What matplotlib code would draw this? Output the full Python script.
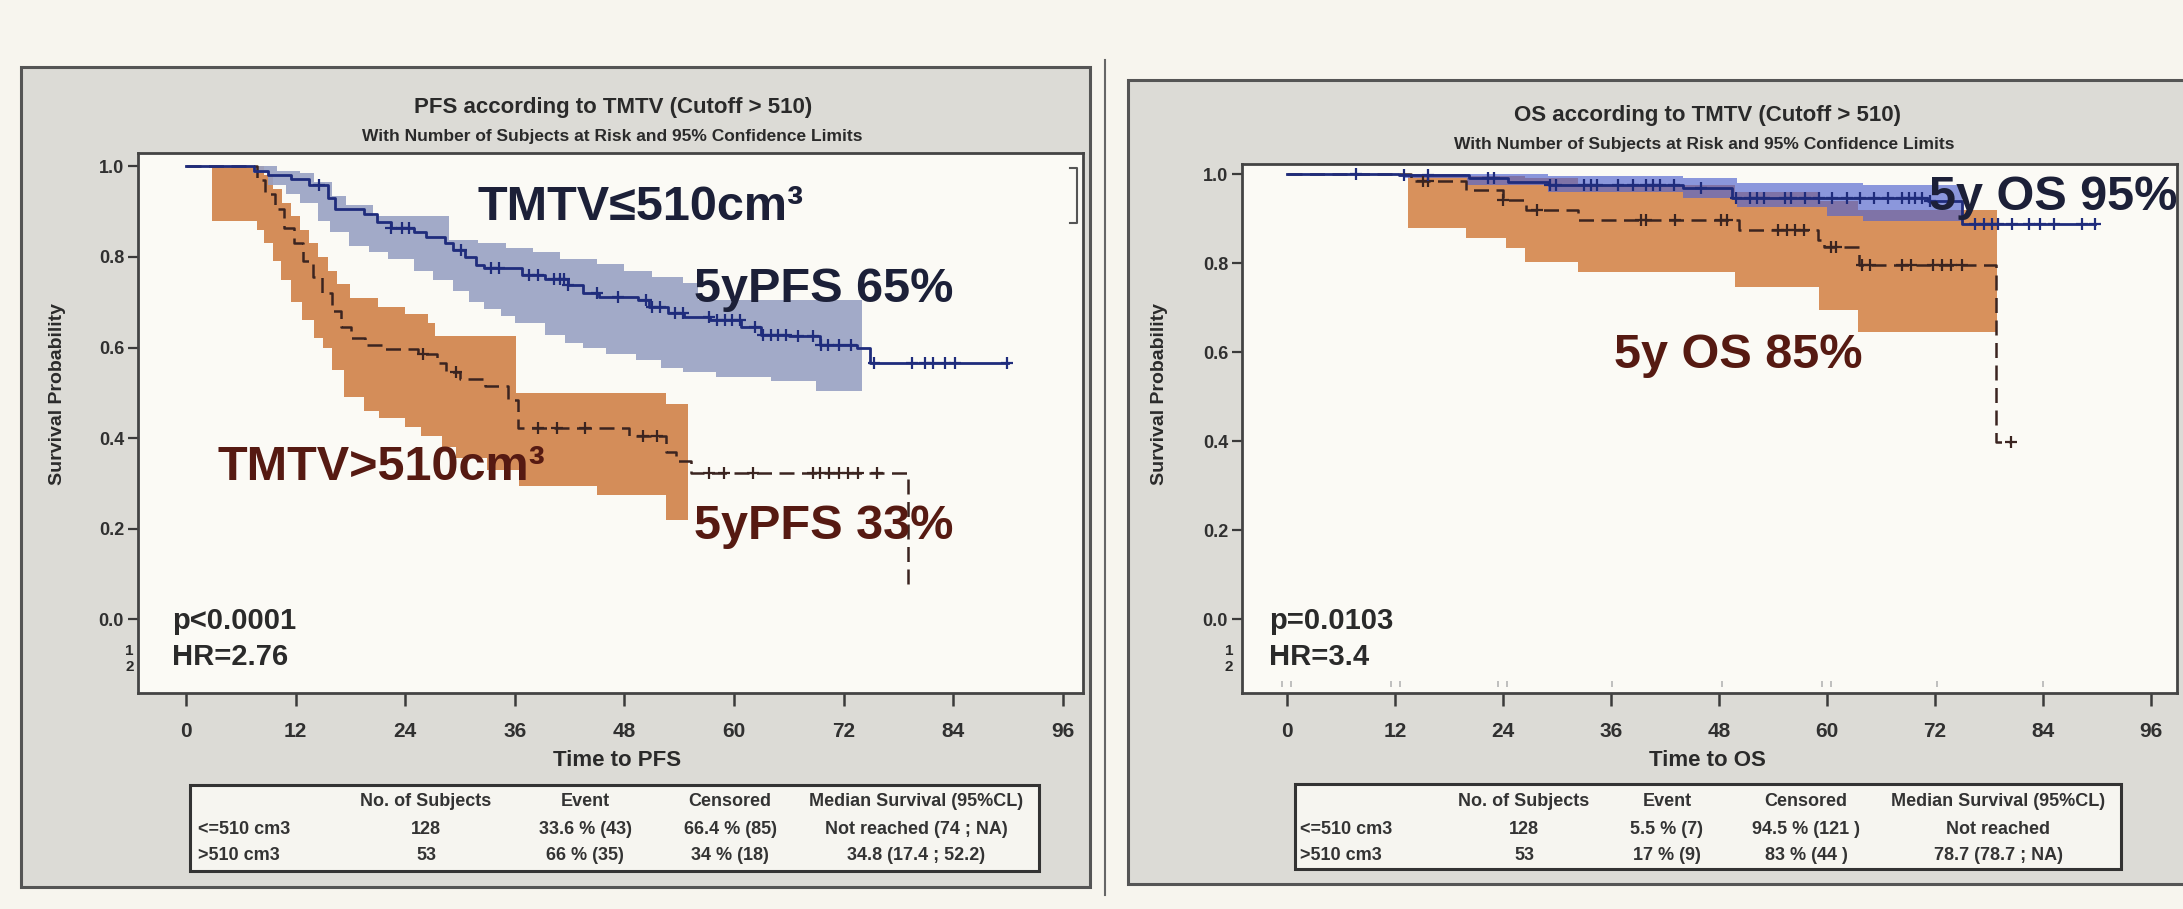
import numpy as np
import matplotlib.pyplot as plt
from matplotlib.patches import Rectangle
from matplotlib.lines import Line2D

plt.rcParams['font.family'] = ['Liberation Sans', 'DejaVu Sans']

W, H = 2183, 909

# ---- PFS, TMTV <= 510 cm3 ----
pfs_low_t = [0, 7.5, 9.0, 11.5, 13.5, 15.5, 16.3, 19.5, 20.9, 22.5, 25, 26.3, 28.4, 29.2, 30.5,
             31.8, 32.6, 36.8, 39.3, 41.8, 43.5, 45.2, 49.5, 50.7, 52.8, 54.5, 57.4, 60.8,
             62.9, 66, 69.4, 73.5, 74.9]
pfs_low_s = [1.0, 0.99, 0.98, 0.972, 0.96, 0.93, 0.905, 0.895, 0.878, 0.864, 0.855, 0.845, 0.83,
             0.815, 0.80, 0.782, 0.775, 0.76, 0.752, 0.738, 0.72, 0.712, 0.705, 0.69, 0.676,
             0.668, 0.66, 0.646, 0.628, 0.625, 0.605, 0.598, 0.565]
pfs_low_end = 90
pfs_low_cens = [14.6, 22.5, 23.6, 24.4, 30.1, 33.4, 34.3, 37.6, 38.5, 40.3, 41.0, 41.4, 41.8,
                45.0, 47.3, 50.4, 51.0, 51.9, 53.5, 54.4, 57.3, 58.1, 59.0, 59.8, 60.7, 62.3,
                63.2, 64.0, 64.8, 65.7, 67.0, 68.6, 69.5, 70.3, 71.5, 72.8, 75.3, 79.5, 80.9,
                81.8, 83.1, 84.2, 89.9]
pfs_low_up_t = [2.7, 10, 12.5, 14, 16, 17.5, 20.5, 28.8, 32, 35, 38, 41, 45, 48, 51, 54.4, 56]
pfs_low_up = [1.0, 0.99, 0.985, 0.965, 0.935, 0.915, 0.89, 0.838, 0.83, 0.82, 0.81, 0.795,
              0.785, 0.77, 0.755, 0.742, 0.705]
pfs_low_lo_t = [2.7, 7.3, 9, 11, 12.5, 14.5, 15.8, 17.9, 20, 22.1, 25, 27, 29.2, 31, 32.6, 34.5,
                36, 39.3, 41.5, 43.5, 46, 49.3, 52, 54.4, 58, 64, 69]
pfs_low_lo = [1.0, 0.985, 0.96, 0.94, 0.92, 0.88, 0.855, 0.825, 0.81, 0.795, 0.77, 0.75, 0.725,
              0.70, 0.685, 0.67, 0.655, 0.628, 0.61, 0.598, 0.585, 0.572, 0.555, 0.545, 0.535,
              0.525, 0.505]
pfs_low_ci_end = 74

# ---- PFS, TMTV > 510 cm3 ----
pfs_high_t = [0, 7.8, 8.6, 9.7, 10.7, 11.8, 12.8, 13.9, 14.9, 16, 17, 18.1, 19.6, 21.7, 25.4,
              27.5, 28.5, 30, 32.7, 35.3, 36.4, 48.5, 52.6, 53.7, 55.3, 79]
pfs_high_s = [1.0, 0.97, 0.94, 0.905, 0.865, 0.83, 0.79, 0.755, 0.72, 0.68, 0.645, 0.62, 0.605,
              0.597, 0.585, 0.565, 0.545, 0.53, 0.515, 0.485, 0.422, 0.405, 0.37, 0.35, 0.322,
              0.07]
pfs_high_end = 79
pfs_high_cens = [25.9, 29.6, 38.5, 40.6, 43.7, 50.0, 51.6, 57.3, 58.9, 62.1, 68.6, 69.4, 70.4,
                 71.5, 72.5, 73.6, 75.6]
pfs_high_up_t = [2.8, 8.5, 9.5, 10.5, 11.5, 12.5, 13.5, 14.5, 15.5, 16.5, 18, 21, 24, 26.5,
                 27.3, 36.1, 52.6]
pfs_high_up = [1.0, 0.98, 0.95, 0.92, 0.89, 0.86, 0.83, 0.80, 0.77, 0.74, 0.71, 0.69, 0.675,
               0.655, 0.625, 0.5, 0.475]
pfs_high_lo_t = [2.8, 7.8, 8.5, 9.5, 10.4, 11.5, 12.7, 14, 15, 16, 17.3, 19.5, 21.1, 24, 25.7,
                 28, 29.6, 33, 36.5, 45, 52.6]
pfs_high_lo = [0.88, 0.86, 0.83, 0.79, 0.75, 0.70, 0.66, 0.62, 0.60, 0.55, 0.49, 0.46, 0.445,
               0.425, 0.405, 0.38, 0.356, 0.33, 0.295, 0.275, 0.22]
pfs_high_ci_end = 55

# ---- OS, TMTV <= 510 cm3 ----
os_low_t = [0, 12.5, 20.2, 24.6, 29.1, 44, 49.5, 71.2, 75]
os_low_s = [1.0, 0.997, 0.99, 0.983, 0.975, 0.968, 0.945, 0.94, 0.888]
os_low_end = 89.8
os_low_cens = [7.7, 13.0, 15.7, 22.3, 23.0, 29.2, 29.9, 33.0, 33.8, 34.5, 36.8, 38.4, 39.9, 40.7,
               41.4, 43.0, 46.0, 49.9, 51.4, 52.2, 53.0, 55.3, 56.0, 57.6, 59.1, 60.6, 62.2,
               63.7, 65.2, 66.8, 68.3, 69.1, 69.8, 70.6, 71.4, 76.4, 77.5, 78.3, 79.0, 80.6,
               82.5, 83.7, 85.2, 88.3, 89.8]
os_low_up_t = [13, 29, 44, 50, 64]
os_low_up = [1.0, 0.995, 0.99, 0.98, 0.975]
os_low_lo_t = [13, 20, 29, 44, 50, 60, 64]
os_low_lo = [0.99, 0.975, 0.96, 0.945, 0.925, 0.905, 0.895]
os_low_ci_end = 75

# ---- OS, TMTV > 510 cm3 ----
os_high_t = [0, 13.8, 19.9, 24, 26.6, 32.3, 50.2, 59, 59.7, 63.6, 78.8]
os_high_s = [1.0, 0.985, 0.965, 0.942, 0.92, 0.897, 0.874, 0.852, 0.837, 0.796, 0.398]
os_high_end = 80.4
os_high_cens = [15.1, 15.7, 24.0, 27.8, 39.3, 39.9, 43.1, 48.2, 48.9, 54.6, 55.6, 56.5, 57.5,
                60.4, 61.0, 63.9, 64.8, 68.3, 69.3, 71.8, 72.8, 73.8, 75.0, 80.4]
os_high_up_t = [13.5, 19.9, 26.5, 32.3, 49.8, 59.1, 63.5]
os_high_up = [1.0, 0.995, 0.99, 0.975, 0.96, 0.94, 0.92]
os_high_lo_t = [13.5, 19.9, 24.3, 26.5, 32.3, 49.8, 59.1, 63.5]
os_high_lo = [0.879, 0.856, 0.834, 0.803, 0.78, 0.747, 0.694, 0.646]
os_high_ci_end = 78.9

# faint at-risk marks under the OS curves
os_risk_marks = [-0.6, 0.5, 11.6, 12.6, 23.4, 24.4, 36.1, 48.3, 59.4, 60.4, 72.2, 84]

# summary tables
table_header = ["No. of Subjects", "Event", "Censored", "Median Survival (95%CL)"]
pfs_rows = [["<=510 cm3", "128", "33.6 % (43)", "66.4 % (85)", "Not reached (74 ; NA)"],
            [">510 cm3", "53", "66 % (35)", "34 % (18)", "34.8 (17.4 ; 52.2)"]]
os_rows = [["<=510 cm3", "128", "5.5 % (7)", "94.5 % (121 )", "Not reached"],
           [">510 cm3", "53", "17 % (9)", "83 % (44 )", "78.7 (78.7 ; NA)"]]

BLUE_LINE = '#1f2c7c'
BROWN_LINE = '#3b2420'
NAVY_TXT = '#1c2038'
RED_TXT = '#561a12'
DARK = '#2a2a2a'


def fx(x):
    return x / W


def fy(y):
    return 1 - y / H


def step_path(t, v, t_end):
    xs, ys = [t[0]], [v[0]]
    for i in range(1, len(t)):
        xs += [t[i], t[i]]
        ys += [v[i - 1], v[i]]
    xs.append(t_end)
    ys.append(v[-1])
    return xs, ys


def surv_at(t, v, times):
    idx = np.searchsorted(t, times, side='right') - 1
    return np.asarray(v)[idx]


def draw_band(ax, up_t, up, lo_t, lo, t_end, color, alpha):
    xu, yu = step_path(up_t, up, t_end)
    xl, yl = step_path(lo_t, lo, t_end)
    ax.fill(xu + xl[::-1], yu + yl[::-1], color=color, alpha=alpha, lw=0, zorder=1)


def draw_curve(ax, t, s, t_end, cens, color, ls, lw):
    xs, ys = step_path(t, s, t_end)
    ax.plot(xs, ys, color=color, ls=ls, lw=lw, zorder=3)
    ax.plot(cens, surv_at(t, s, cens), ls='none', marker='+', ms=9, mew=1.6,
            color=color, zorder=4)


def setup_axes(px, xlim, ylim):
    x0, y0, x1, y1 = px
    ax = fig.add_axes([fx(x0), fy(y1), (x1 - x0) / W, (y1 - y0) / H])
    ax.set_facecolor('#fbfaf5')
    ax.set_xlim(*xlim)
    ax.set_ylim(*ylim)
    ax.set_xticks(range(0, 97, 12))
    ax.set_yticks([0.0, 0.2, 0.4, 0.6, 0.8, 1.0])
    ax.set_yticklabels(['0.0', '0.2', '0.4', '0.6', '0.8', '1.0'])
    ax.tick_params(axis='y', length=7, width=1.6, colors='#3a3a3a', labelsize=13, pad=3)
    ax.tick_params(axis='x', length=9, width=1.8, colors='#3a3a3a', labelsize=15, pad=12)
    for lab in ax.get_xticklabels() + ax.get_yticklabels():
        lab.set_fontweight('bold')
        lab.set_color('#303030')
    for sp in ax.spines.values():
        sp.set_color('#444444')
        sp.set_linewidth(2)
    return ax


def draw_table(x0, y0, x1, y1, label_x, col_x, rows_y, rows):
    fig.patches.append(Rectangle((fx(x0), fy(y1)), (x1 - x0) / W, (y1 - y0) / H,
                                 transform=fig.transFigure, facecolor='#f6f5f0',
                                 edgecolor='#333333', lw=2.2, zorder=-5))
    kw = dict(va='center', fontsize=13, fontweight='bold', color='#333333')
    for cx, txt in zip(col_x, table_header):
        fig.text(fx(cx), fy(rows_y[0]), txt, ha='center', **kw)
    for ry, row in zip(rows_y[1:], rows):
        fig.text(fx(label_x), fy(ry), row[0], ha='left', **kw)
        for cx, txt in zip(col_x, row[1:]):
            fig.text(fx(cx), fy(ry), txt, ha='center', **kw)


fig = plt.figure(figsize=(W / 100, H / 100), dpi=100)
fig.patch.set_facecolor('#f7f5ee')

# grey slide panels, kept behind the axes
fig.patches.append(Rectangle((fx(21), fy(887)), (1090 - 21) / W, (887 - 67) / H,
                             transform=fig.transFigure, facecolor='#dcdbd6',
                             edgecolor='#555555', lw=2.2, zorder=-10))
fig.patches.append(Rectangle((fx(1128), fy(884)), (2210 - 1128) / W, (884 - 80) / H,
                             transform=fig.transFigure, facecolor='#dcdbd6',
                             edgecolor='#555555', lw=2.2, zorder=-10))
fig.lines.append(Line2D([fx(1105), fx(1105)], [fy(60), fy(895)], transform=fig.transFigure,
                        color='#666666', lw=1.5, zorder=-10))

# ---------------- PFS panel ----------------
ax1 = setup_axes((138, 153, 1083, 693), (-5.25, 98.2), (-0.163, 1.0296))
draw_band(ax1, pfs_high_up_t, pfs_high_up, pfs_high_lo_t, pfs_high_lo, pfs_high_ci_end,
          '#d48d59', 1.0)
draw_band(ax1, pfs_low_up_t, pfs_low_up, pfs_low_lo_t, pfs_low_lo, pfs_low_ci_end,
          '#98a2c4', 0.9)
draw_curve(ax1, pfs_high_t, pfs_high_s, pfs_high_end, pfs_high_cens, BROWN_LINE,
           (0, (6, 3)), 1.8)
draw_curve(ax1, pfs_low_t, pfs_low_s, pfs_low_end, pfs_low_cens, BLUE_LINE, '-', 2.0)

fig.lines.append(Line2D([fx(1070), fx(1077), fx(1077), fx(1070)],
                        [fy(168), fy(168), fy(223), fy(223)], transform=fig.transFigure,
                        color='#555555', lw=1.5))

fig.text(fx(613), fy(108), "PFS according to TMTV (Cutoff > 510)", ha='center', va='center',
         fontsize=16, fontweight='bold', color=DARK)
fig.text(fx(612), fy(137), "With Number of Subjects at Risk and 95% Confidence Limits",
         ha='center', va='center', fontsize=12.5, fontweight='bold', color=DARK)
fig.text(fx(58), fy(394), "Survival Probability", rotation=90, ha='center', va='center',
         fontsize=14, fontweight='bold', color=DARK)
fig.text(fx(617), fy(760), "Time to PFS", ha='center', va='center', fontsize=16,
         fontweight='bold', color=DARK)
fig.text(fx(134), fy(651), "1", ha='right', va='center', fontsize=11, fontweight='bold', color=DARK)
fig.text(fx(134), fy(667), "2", ha='right', va='center', fontsize=11, fontweight='bold', color=DARK)

fig.text(fx(477), fy(220), "TMTV≤510cm³", fontsize=35, fontweight='bold', color=NAVY_TXT)
fig.text(fx(694), fy(302), "5yPFS 65%", fontsize=35, fontweight='bold', color=NAVY_TXT)
fig.text(fx(217), fy(480), "TMTV>510cm³", fontsize=35, fontweight='bold', color=RED_TXT)
fig.text(fx(694), fy(539), "5yPFS 33%", fontsize=35, fontweight='bold', color=RED_TXT)
fig.text(fx(172), fy(629), "p<0.0001", fontsize=21, fontweight='bold', color=DARK)
fig.text(fx(172), fy(665), "HR=2.76", fontsize=21, fontweight='bold', color=DARK)

draw_table(190, 785, 1039, 871, 198, [426, 585, 730, 916], [802, 829, 855], pfs_rows)

# ---------------- OS panel ----------------
ax2 = setup_axes((1242, 164, 2177, 693), (-4.99, 98.9), (-0.166, 1.0225))
draw_band(ax2, os_high_up_t, os_high_up, os_high_lo_t, os_high_lo, os_high_ci_end,
          '#d8915c', 1.0)
draw_band(ax2, os_low_up_t, os_low_up, os_low_lo_t, os_low_lo, os_low_ci_end,
          '#4f63d0', 0.65)
draw_curve(ax2, os_high_t, os_high_s, os_high_end, os_high_cens, BROWN_LINE,
           (0, (6, 3)), 1.8)
draw_curve(ax2, os_low_t, os_low_s, os_low_end, os_low_cens, BLUE_LINE, '-', 2.0)
ax2.plot(os_risk_marks, [-0.146] * len(os_risk_marks), ls='none', marker='|', ms=5,
         mew=1.2, color='#b5b5b5', zorder=2)

fig.text(fx(1708), fy(116), "OS according to TMTV (Cutoff > 510)", ha='center', va='center',
         fontsize=16, fontweight='bold', color=DARK)
fig.text(fx(1704), fy(145), "With Number of Subjects at Risk and 95% Confidence Limits",
         ha='center', va='center', fontsize=12.5, fontweight='bold', color=DARK)
fig.text(fx(1160), fy(394), "Survival Probability", rotation=90, ha='center', va='center',
         fontsize=14, fontweight='bold', color=DARK)
fig.text(fx(1707), fy(761), "Time to OS", ha='center', va='center', fontsize=16,
         fontweight='bold', color=DARK)
fig.text(fx(1233), fy(651), "1", ha='right', va='center', fontsize=11, fontweight='bold', color=DARK)
fig.text(fx(1233), fy(667), "2", ha='right', va='center', fontsize=11, fontweight='bold', color=DARK)

fig.text(fx(1929), fy(210), "5y OS 95%", fontsize=35, fontweight='bold', color=NAVY_TXT)
fig.text(fx(1614), fy(368), "5y OS 85%", fontsize=35, fontweight='bold', color=RED_TXT)
fig.text(fx(1269), fy(629), "p=0.0103", fontsize=21, fontweight='bold', color=DARK)
fig.text(fx(1269), fy(665), "HR=3.4", fontsize=21, fontweight='bold', color=DARK)

draw_table(1295, 784, 2121, 869, 1300, [1524, 1667, 1806, 1998], [802, 830, 855], os_rows)

fig.savefig('out.png', dpi=100, facecolor=fig.get_facecolor())
